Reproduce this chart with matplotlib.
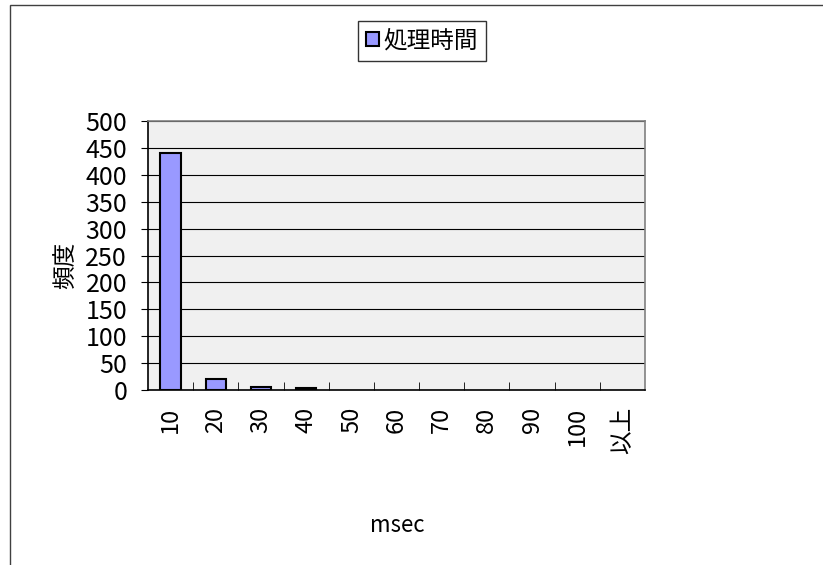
import matplotlib.pyplot as plt
import matplotlib.patches as patches
import numpy as np

# data
categories = ['10', '20', '30', '40', '50', '60', '70', '80', '90', '100', '以上']
counts = [440, 20, 6, 3, 0, 0, 0, 0, 0, 0, 0]
series_name = '処理時間'

plt.rcParams['font.family'] = ['Noto Sans CJK JP', 'DejaVu Sans']

fig = plt.figure(figsize=(8.23, 5.65), dpi=100)
fig.patch.set_facecolor('white')

# outer chart border (left + top visible)
fig.patches.append(patches.Rectangle((10 / 823, -0.1), 1.2, 1.1 - 5 / 565,
                                     transform=fig.transFigure, fill=False,
                                     edgecolor='#404040', linewidth=1))

ax = fig.add_axes([148 / 823, 1 - 390 / 565, 497 / 823, 269 / 565])
ax.set_facecolor('#F0F0F0')

x = np.arange(len(categories))
# empty bins get no outline, like the original
lw = [1.5 if c > 0 else 0 for c in counts]
bars = ax.bar(x, counts, width=0.45, color='#9999FF', edgecolor='black',
              linewidth=lw, label=series_name, zorder=3)

ax.set_xlim(-0.5, len(categories) - 0.5)
ax.set_ylim(0, 500)
ax.set_yticks(np.arange(0, 501, 50))
ax.yaxis.grid(True, color='black', linewidth=0.8, zorder=0)
ax.set_axisbelow(True)

# category labels centred, tick marks between categories
ax.set_xticks(x)
ax.set_xticklabels(categories, rotation=90, fontsize=17)
ax.tick_params(axis='x', length=0, pad=12)
ax.set_xticks(np.arange(0.5, len(categories) - 0.5, 1), minor=True)
ax.tick_params(axis='x', which='minor', direction='in', length=6, color='black')
ax.tick_params(axis='y', direction='out', length=5, labelsize=18, pad=10)
for t in ax.get_yticklabels():
    t.set_fontstretch('condensed')

for s in ['top', 'right']:
    ax.spines[s].set_color('#808080')
    ax.spines[s].set_linewidth(1.2)
for s in ['left', 'bottom']:
    ax.spines[s].set_color('black')
    ax.spines[s].set_linewidth(1.2)

fig.text(397 / 823, 1 - 525 / 565, 'msec', ha='center', va='center', fontsize=16)
fig.text(66 / 823, 1 - 265 / 565, '頻度', ha='center', va='center',
         rotation=90, fontsize=17)

leg = fig.legend(handles=[bars], labels=[series_name], loc='center',
                 bbox_to_anchor=(422 / 823, 1 - 41 / 565), fontsize=17,
                 frameon=True, fancybox=False, edgecolor='black',
                 handlelength=0.55, handleheight=0.55, handletextpad=0.2,
                 borderpad=0.35)
leg.get_frame().set_linewidth(1)

fig.savefig('out.png', dpi=100)
